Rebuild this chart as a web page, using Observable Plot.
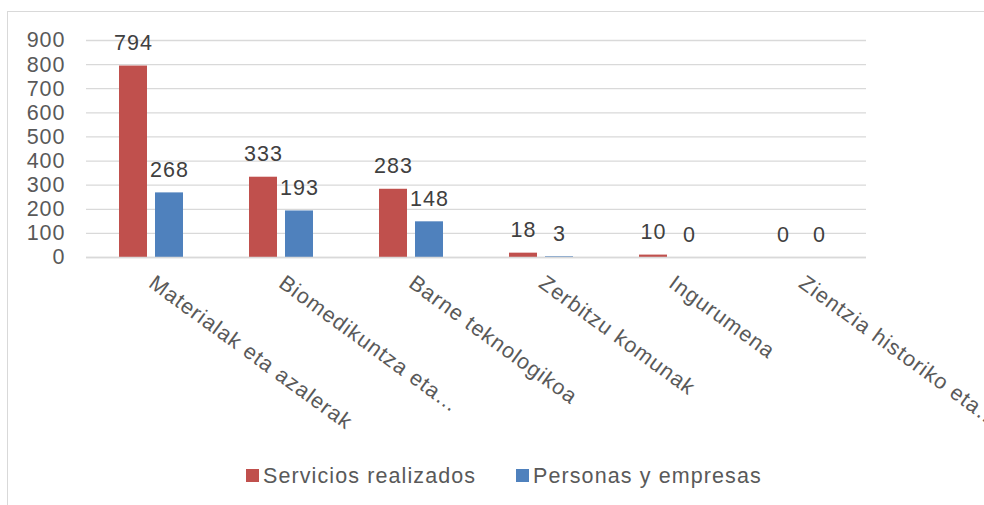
<!DOCTYPE html>
<html>
<head>
<meta charset="utf-8">
<script src="https://cdn.jsdelivr.net/npm/d3@7"></script>
<script src="https://cdn.jsdelivr.net/npm/@observablehq/plot@0.6"></script>
<style>
  html, body { margin: 0; padding: 0; background: #fff; width: 984px; height: 505px; overflow: hidden; }
  #frame { position: absolute; left: 7px; top: 11px; width: 1000px; height: 510px; border: 1px solid #d9d9d9; box-sizing: border-box; }
  #chart { position: absolute; left: 0; top: 0; }
  #chart text { letter-spacing: 1px; }
  .lg { position: absolute; font-family: "Liberation Sans", Arial, sans-serif; font-size: 21.5px; line-height: 1; letter-spacing: 1.1px; color: #595959; white-space: nowrap; top: 466px; }
  .sw { position: absolute; width: 13px; height: 13px; top: 469px; }
</style>
</head>
<body>
<div id="frame"></div>
<div id="chart"></div>
<div id="legend"></div>
<script>
const categories = ["Materialak eta azalerak", "Biomedikuntza eta…", "Barne teknologikoa", "Zerbitzu komunak", "Ingurumena", "Zientzia historiko eta…"];
const series = ["Servicios realizados", "Personas y empresas"];
const serviciosRealizados = [794, 333, 283, 18, 10, 0];
const personasEmpresas = [268, 193, 148, 3, 0, 0];
const yTicks = [0, 100, 200, 300, 400, 500, 600, 700, 800, 900];
const colors = ["#C0504D", "#4F81BD"];

const data = [];
categories.forEach((c, i) => {
  data.push({category: c, series: series[0], value: serviciosRealizados[i]});
  data.push({category: c, series: series[1], value: personasEmpresas[i]});
});

const font = "Liberation Sans, Arial, sans-serif";
const fs = 21.5;
const chart = Plot.plot({
  width: 984,
  height: 450,
  marginLeft: 85,
  marginRight: 118,
  marginTop: 40,
  marginBottom: 193,
  style: {fontFamily: font, fontSize: fs + "px", color: "#595959", background: "transparent", overflow: "visible"},
  fx: {domain: categories, padding: 0, label: null},
  x: {domain: series, paddingInner: 0.216, paddingOuter: 0.865, axis: null},
  y: {domain: [0, 900], label: null},
  color: {domain: series, range: colors},
  marks: [
    Plot.gridY(yTicks, {stroke: "#d9d9d9", strokeOpacity: 1, strokeWidth: 1.3}),
    Plot.axisY(yTicks, {tickSize: 0, tickPadding: 21, fontSize: fs, fill: "#595959", label: null}),
    Plot.axisFx({anchor: "bottom", tickSize: 0, tickPadding: 23, tickRotate: 36, textAnchor: "start", fontSize: fs, fill: "#595959", label: null}),
    Plot.barY(data, {fx: "category", x: "series", y: "value", fill: "series"}),
    Plot.text(data, {fx: "category", x: "series", y: "value", text: d => String(d.value), dy: -16, lineAnchor: "bottom", fontSize: fs, fill: "#404040"}),
    Plot.ruleY([0], {stroke: "#d9d9d9", strokeWidth: 1.3})
  ]
});
document.getElementById("chart").appendChild(chart);

const legend = document.getElementById("legend");
const swX = [246, 516];
const txX = [263, 533];
series.forEach((s, i) => {
  const sw = document.createElement("div");
  sw.className = "sw";
  sw.style.left = swX[i] + "px";
  sw.style.background = colors[i];
  legend.appendChild(sw);
  const t = document.createElement("div");
  t.className = "lg";
  t.style.left = txX[i] + "px";
  t.textContent = s;
  legend.appendChild(t);
});
</script>
</body>
</html>
